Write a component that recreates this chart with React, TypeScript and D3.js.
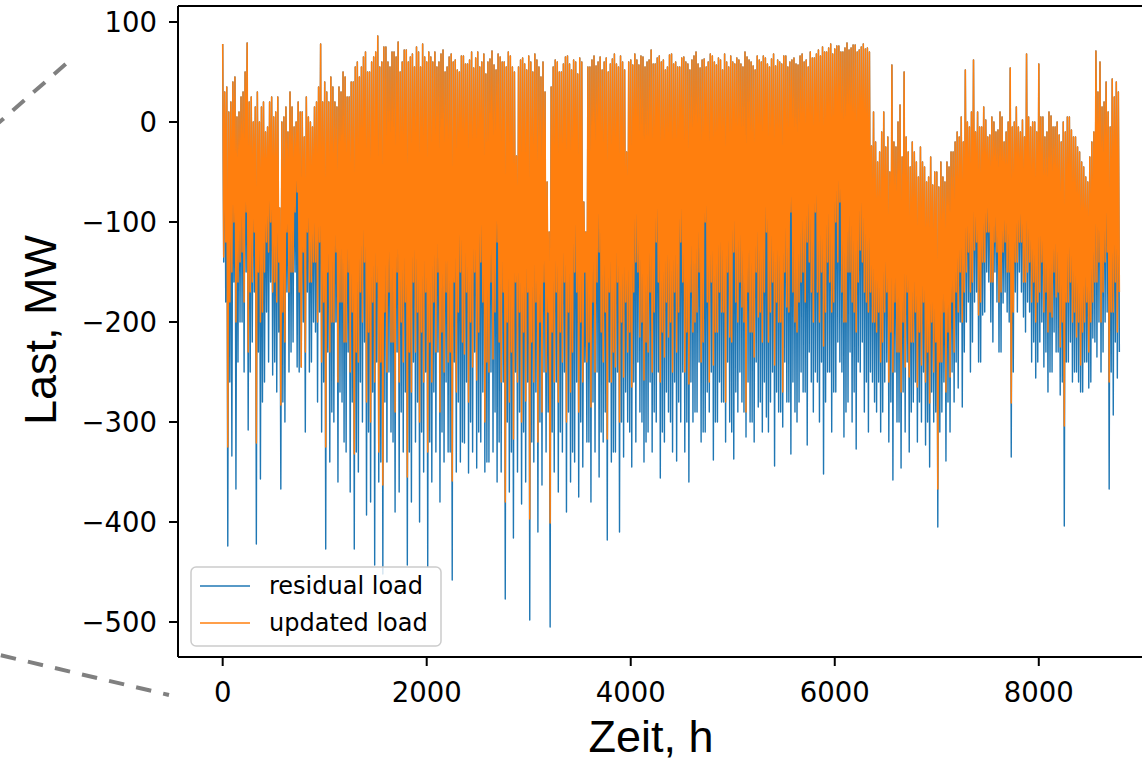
import React from "react";
import * as d3 from "d3";

// Hourly load of one year, read from the picture as a repeating 40-hour pattern:
// main peak (40*i h), deep trough (+10 h), second peak (+20 h), second trough (+30 h).
const STEP_H = 40;

// main peaks of the updated load (the residual load peaks coincide with them)
const updatedHigh = [
  78, 35, 20, 45, 10, 30, 79, 25, 15, 0, 20, -5, 25, 10, -86, 5, -10, 15, 0, 10, -15, 5, -5, 20, 78,
  40, 20, 35, 15, 30, 45, 25, 40, 60, 55, 70, 50, 65, 86, 60, 75, 55, 70, 80, 60, 72, 65, 55, 70, 78, 60,
  65, 70, 60, 72, 55, 68, 62, 50, 66, 58, 70, 64, 55, 68, 60, 71, 52, 65, 60, 70, 55, -34, 62, 58, 66, 50, 62, 45, 30, -110,
  55, 60, 50, 65, 58, 62, 48, 60, -110, 55, 66, 60, 52, 64, 58, 68, 55, 60, -30, 62, 68, 57, 65, 60, 72, 58, 66, 62, 55, 68,
  60, 55, 65, 58, 62, 70, 54, 63, 60, 66, 57, 62, 68, 55, 60, 64, 58, 70, 62, 56, 66, 60, 64, 55, 68, 62, 58, 66, 60, 64,
  57, 68, 62, 70, 64, 72, 75, 70, 78, 73, 76, 70, 79, 74, 77, 72, 78, 74, -24,
  -20, -30, 10, -15, 57, -25, 17, 50, -30, -20, -40, -25, -45, -55, -63, -50, -40, -60, -45, -30,
  -10, 5, 52, -5, 62, 10, -5, 2, -13, 0, -8, 5, -10, 54, 0, -5, 2, 68,
  -5, 0, 58, 5, -10, 6, -5, -13, 0, 5, -8, -15, -30, -45, -60, -20, 71, 60, 20, 10, 43, 40,
];

// second (lower) peaks of both series
const updatedHigh2 = [
  30, 10, 40, 5, 25, 50, 20, 0, 30, 15, -10, 20, 5, 25, 0, 15, 30, -5, 20, 10, 25, 0, 15, 35, 20,
  30, 45, 20, 35, 50, 25, 40, 55, 45, 65, 50, 60, 70, 55, 75, 60, 70, 65, 50, 72, 60, 68, 75, 55, 65, 70,
  60, 55, 68, 50, 65, 60, 52, 66, 58, 62, 54, 70, 60, 48, 63, 57, 68, 60, 55, 66, 50, 55, 64, 52, 60, 68, 55, 60, -60, 35,
  62, 50, 58, 66, 52, 60, 64, -80, 55, 62, 56, 65, 60, 50, 63, 58, 66, 52, 60, 57, 62, 66, 55, 62, 58, 64, 60, 52, 67, 58,
  55, 64, 60, 52, 66, 58, 62, 55, 68, 60, 64, 52, 60, 66, 58, 62, 55, 65, 60, 52, 62, 66, 58, 63, 56, 60, 66, 55, 62, 58,
  66, 60, 55, 64, 68, 66, 70, 74, 68, 76, 70, 74, 72, 77, 70, 75, 73, 70, 10,
  -40, -10, -25, -50, -20, 0, -35, -15, -45, -30, -55, -40, -60, -35, -50, -65, -55, -40, -30, -20,
  -15, -20, 0, 10, -10, -5, 15, -15, 5, -10, 10, -20, 0, -5, 15, -10, -15, 5,
  0, -10, 5, -15, 10, -5, 0, -20, -10, 5, -15, -25, -40, -55, -35, -10, 30, 15, 40, -5, 25, 30,
];

// deep troughs of the updated load (orange)
const updatedLow = [
  -135, -325, -150, -200, -140, -180, -230, -160, -321, -200, -150, -130, -170, -180, -283, -220, -170, -150, -70, -245, -230, -160, -140, -200, -240,
  -325, -230, -200, -260, -180, -220, -250, -332, -240, -200, -280, -300, -260, -330, -363, -250, -220, -290, -260, -240, -355, -270, -230, -300, -260, -330,
  -260, -230, -290, -250, -240, -359, -270, -150, -232, -280, -245, -258, -140, -300, -250, -237, -120, -260, -380, -280, -317, -260, -300, -279, -397, -260, -320, -290, -250, -401,
  -260, -280, -240, -300, -270, -150, -290, -260, -240, -285, -250, -130, -240, -317, -260, -245, -300, -255, -230, -265, -140, -215, -258, -230, -250, -120, -260, -235, -215, -250,
  -230, -120, -250, -262, -210, -190, -240, -100, -260, -243, -210, -190, -280, -215, -130, -200, -185, -290, -210, -235,
  -195, -220, -110, -190, -243, -200, -270, -185, -90, -200, -180, -150, -120, -170, -90, -200, -224, -140, -190, -100,
  -80, -200, -150, -180, -210, -128, -170, -190, -200,
  -210, -240, -190, -260, -250, -230, -270, -245, -255, -220, -265, -243, -260, -281, -250, -367, -240, -270, -255, -230,
  -190, -200, -150, -170, -128, -193, -140, -110, -160, -120, -180, -130, -150, -281, -140, -120, -160, -150,
  -180, -200, -170, -190, -210, -195, -175, -225, -304, -180, -200, -215, -243, -200, -230, -180, -160, -200, -140, -260, -190, -210,
];

// second troughs of the updated load (orange)
const updatedMid = [
  -120, -180, -100, -160, -130, -90, -170, -110, -150, -190, -120, -100, -160, -140, -190, -110, -150, -90, -170, -130, -110, -160, -140, -120, -180,
  -150, -200, -130, -180, -220, -150, -190, -230, -170, -140, -210, -180, -160, -240, -190, -170, -220, -150, -200, -180, -230, -160, -190, -210, -170, -220,
  -180, -150, -210, -170, -230, -160, -190, -220, -170, -200, -150, -210, -180, -240, -160, -190, -220, -170, -200, -230, -160, -190, -210, -170, -220, -180, -200, -160, -190, -210,
  -170, -210, -160, -190, -230, -170, -200, -150, -220, -180, -160, -210, -190, -170, -230, -160, -200, -180, -210, -170, -150, -200, -220, -170, -190, -160, -210, -180, -200, -170,
  -190, -160, -210, -170, -200, -150, -220, -180, -160, -210, -170, -190, -150, -220, -180, -160, -200, -170, -210, -150,
  -190, -170, -220, -160, -180, -200, -150, -190, -170, -210, -160, -180, -140, -200, -170, -150, -190, -160, -180, -140,
  -170, -200, -150, -190, -160, -140, -180, -170, -200,
  -190, -220, -170, -210, -180, -230, -200, -170, -220, -190, -210, -180, -230, -200, -220, -240, -190, -210, -180, -170,
  -150, -170, -130, -160, -120, -180, -140, -110, -160, -130, -170, -120, -150, -190, -140, -120, -160, -140,
  -160, -180, -140, -170, -190, -150, -170, -200, -180, -160, -190, -200, -210, -180, -200, -160, -140, -170, -130, -190, -160, -170,
];

// deep troughs of the residual load (blue)
const residualLow = [
  -140, -424, -334, -367, -200, -250, -308, -220, -422, -357, -260, -240, -253, -270, -367, -300, -250, -220, -245, -245, -310, -250, -200, -280, -310,
  -427, -340, -300, -360, -280, -330, -370, -427, -350, -300, -393, -380, -443, -360, -452, -340, -310, -390, -370, -330, -443, -380, -320, -400, -350, -445,
  -360, -330, -380, -340, -330, -458, -350, -340, -321, -351, -330, -346, -320, -350, -340, -330, -360, -350, -477, -370, -416, -350, -382, -360, -498, -340, -410, -363, -330, -505,
  -350, -370, -330, -390, -360, -340, -375, -345, -320, -380, -330, -355, -320, -418, -340, -330, -410, -335, -300, -345, -320, -290, -340, -310, -330, -300, -356, -320, -290, -330,
  -339, -300, -330, -360, -300, -290, -320, -310, -290, -338, -300, -280, -320, -300, -337, -290, -280, -315, -300, -320,
  -285, -310, -295, -280, -344, -290, -305, -280, -332, -290, -280, -270, -323, -260, -250, -300, -352, -250, -310, -270,
  -240, -315, -280, -300, -327, -250, -290, -310, -260,
  -290, -310, -260, -320, -358, -300, -346, -310, -330, -280, -320, -300, -323, -345, -300, -405, -290, -339, -310, -280,
  -266, -285, -200, -250, -180, -240, -193, -150, -200, -150, -230, -181, -190, -335, -170, -150, -195, -180,
  -240, -256, -220, -245, -270, -250, -230, -273, -404, -240, -260, -250, -270, -240, -266, -216, -235, -250, -200, -367, -293, -256,
];

// second troughs of the residual load (blue)
const residualMid = [
  -180, -260, -160, -240, -200, -150, -250, -170, -230, -280, -190, -160, -240, -210, -280, -170, -230, -150, -250, -200, -170, -240, -210, -190, -260,
  -230, -290, -200, -270, -320, -230, -280, -330, -260, -220, -310, -270, -240, -340, -280, -250, -320, -230, -290, -270, -330, -240, -280, -310, -250, -320,
  -270, -230, -310, -260, -330, -240, -280, -320, -260, -300, -230, -310, -270, -340, -250, -290, -320, -260, -300, -330, -250, -290, -310, -260, -320, -270, -300, -250, -290, -310,
  -260, -310, -250, -290, -330, -260, -300, -240, -320, -280, -250, -310, -290, -260, -330, -250, -300, -270, -310, -260, -240, -300, -320, -260, -290, -250, -310, -270, -300, -260,
  -280, -250, -300, -260, -290, -240, -310, -270, -250, -300, -260, -280, -240, -310, -270, -250, -290, -260, -300, -240,
  -280, -260, -310, -250, -270, -290, -240, -280, -260, -300, -250, -270, -230, -290, -260, -240, -280, -250, -270, -220,
  -250, -290, -230, -270, -240, -220, -260, -250, -280,
  -260, -290, -240, -280, -250, -300, -270, -240, -290, -260, -280, -250, -300, -270, -290, -310, -260, -280, -250, -240,
  -200, -230, -180, -220, -170, -240, -190, -160, -220, -180, -230, -170, -200, -250, -190, -170, -210, -190,
  -220, -240, -200, -230, -250, -210, -230, -260, -240, -220, -250, -260, -270, -240, -260, -220, -200, -230, -190, -250, -220, -230,
];

const xTicks = [0, 2000, 4000, 6000, 8000];
const yTicks = [100, 0, -100, -200, -300, -400, -500];
const seriesNames = ["residual load", "updated load"];
const seriesColors = ["#1f77b4", "#ff7f0e"];

const W = 1142;
const H = 768;
const plot = { left: 178, right: 1161, top: 6, bottom: 657 };

function buildSeries(high: number[], low: number[], high2: number[], mid: number[]): [number, number][] {
  const pts: [number, number][] = [];
  const q = STEP_H / 4;
  high.forEach((h, i) => {
    const t = i * STEP_H;
    pts.push([t, h]);
    pts.push([t + q, low[i]]);
    pts.push([t + 2 * q, high2[i]]);
    pts.push([t + 3 * q, mid[i]]);
  });
  return pts;
}

const fmt = (v: number) => (v < 0 ? "\u2212" + Math.abs(v) : String(v));

export default function App() {
  const x = d3.scaleLinear().domain([-438, 9198]).range([plot.left, plot.right]);
  const y = d3.scaleLinear().domain([-535, 116]).range([plot.bottom, plot.top]);
  const line = d3
    .line<[number, number]>()
    .x((d) => x(d[0]))
    .y((d) => y(d[1]));

  const residual = buildSeries(updatedHigh, residualLow, updatedHigh2, residualMid);
  const updated = buildSeries(updatedHigh, updatedLow, updatedHigh2, updatedMid);

  const tickFont = "'DejaVu Sans', sans-serif";
  const labelFont = "'Liberation Sans', Arial, sans-serif";

  return (
    <svg
      width={W}
      height={H}
      style={{ position: "absolute", left: 0, top: 0, background: "#fff" }}
    >
      <rect x={0} y={0} width={W} height={H} fill="#fff" />
      {/* zoom connector lines */}
      <line x1={65.7} y1={64} x2={-30} y2={148} stroke="#808080" strokeWidth={4} strokeDasharray="15.5 12" />
      <line x1={169} y1={695} x2={-30} y2={648} stroke="#808080" strokeWidth={4} strokeDasharray="15.5 12.3" strokeDashoffset={9.5} />

      <defs>
        <clipPath id="plotClip">
          <rect x={plot.left} y={plot.top} width={plot.right - plot.left} height={plot.bottom - plot.top} />
        </clipPath>
      </defs>

      <g clipPath="url(#plotClip)">
        <path d={line(residual) || ""} fill="none" stroke={seriesColors[0]} strokeWidth={1.4} strokeLinejoin="round" />
        <path d={line(updated) || ""} fill="none" stroke={seriesColors[1]} strokeWidth={1.5} strokeLinejoin="round" />
      </g>

      {/* spines */}
      <line x1={plot.left} y1={plot.top} x2={plot.left} y2={plot.bottom} stroke="#000" strokeWidth={2} />
      <line x1={plot.left} y1={plot.bottom} x2={plot.right} y2={plot.bottom} stroke="#000" strokeWidth={2} />
      <line x1={plot.left} y1={plot.top} x2={plot.right} y2={plot.top} stroke="#000" strokeWidth={2} />
      <line x1={plot.right} y1={plot.top} x2={plot.right} y2={plot.bottom} stroke="#000" strokeWidth={2} />

      {/* y ticks */}
      {yTicks.map((v) => (
        <g key={"y" + v}>
          <line x1={plot.left - 9} x2={plot.left} y1={y(v)} y2={y(v)} stroke="#000" strokeWidth={2} />
          <text
            x={157}
            y={y(v)}
            dy="0.36em"
            textAnchor="end"
            fontFamily={tickFont}
            fontSize={27.5}
            fill="#000"
          >
            {fmt(v)}
          </text>
        </g>
      ))}

      {/* x ticks */}
      {xTicks.map((v) => (
        <g key={"x" + v}>
          <line x1={x(v)} x2={x(v)} y1={plot.bottom} y2={plot.bottom + 9} stroke="#000" strokeWidth={2} />
          <text x={x(v)} y={702} textAnchor="middle" fontFamily={tickFont} fontSize={27.5} fill="#000">
            {fmt(v)}
          </text>
        </g>
      ))}

      {/* axis labels */}
      <text x={651} y={752} textAnchor="middle" fontFamily={labelFont} fontSize={45} fill="#000">
        Zeit, h
      </text>
      <text
        transform="translate(56,330) rotate(-90)"
        textAnchor="middle"
        fontFamily={labelFont}
        fontSize={45}
        fill="#000"
      >
        Last, MW
      </text>

      {/* legend */}
      <g>
        <rect x={191} y={567} width={250} height={79} rx={5} fill="#fff" fillOpacity={0.8} stroke="#cccccc" strokeWidth={1.5} />
        {seriesNames.map((name, i) => (
          <g key={name}>
            <line x1={200} x2={250} y1={586 + i * 37} y2={586 + i * 37} stroke={seriesColors[i]} strokeWidth={1.4} />
            <text x={269} y={586 + i * 37} dy="0.35em" fontFamily={tickFont} fontSize={24} fill="#000">
              {name}
            </text>
          </g>
        ))}
      </g>
    </svg>
  );
}
